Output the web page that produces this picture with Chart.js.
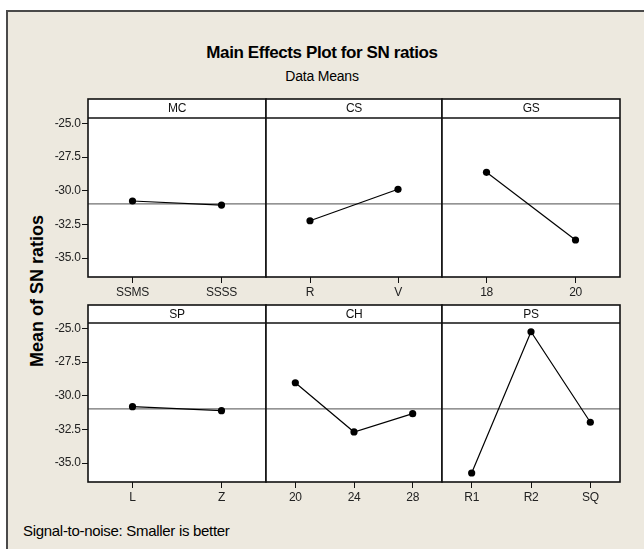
<!DOCTYPE html>
<html>
<head>
<meta charset="utf-8">
<script src="https://cdn.jsdelivr.net/npm/chart.js@4.4.1/dist/chart.umd.min.js"></script>
<style>
  html, body { margin: 0; padding: 0; background: #fff; }
  #page { position: relative; width: 644px; height: 549px; overflow: hidden; background: #fff; }
  #frame { position: absolute; left: 6px; top: 10px; width: 700px; height: 600px;
           border: 2px solid #4a4a4a; background: #EDE9DF; box-sizing: border-box; }
  canvas { position: absolute; left: 0; top: 0; }
  .txt { position: absolute; white-space: nowrap; color: #000;
         font-family: "Liberation Sans", Arial, sans-serif; }
  #title { left: 0; width: 644px; text-align: center; top: 42.5px; line-height: 20px;
           font-size: 17px; font-weight: bold; letter-spacing: -0.4px; }
  #subtitle { left: 0; width: 644px; text-align: center; top: 68px; line-height: 16px;
              font-size: 14px; letter-spacing: -0.2px; }
  #ylabel { left: -113px; top: 281px; width: 300px; height: 20px; line-height: 20px;
            text-align: center; font-size: 18px; font-weight: bold;
            transform: rotate(-90deg); transform-origin: 150px 10px; }
  #footer { left: 23px; top: 521.5px; line-height: 18px; font-size: 15px; letter-spacing: -0.3px; }
</style>
</head>
<body>
<div id="page">
  <div id="frame"></div>
  <div class="txt" id="title">Main Effects Plot for SN ratios</div>
  <div class="txt" id="subtitle">Data Means</div>
  <div class="txt" id="ylabel">Mean of SN ratios</div>
  <div class="txt" id="footer">Signal-to-noise: Smaller is better</div>
</div>
<script>
// Mean S/N ratio (dB) for each level of each factor
const mcLevels = ['SSMS', 'SSSS'];
const mcSN = [-30.76, -31.06];
const csLevels = ['R', 'V'];
const csSN = [-32.23, -29.89];
const gsLevels = ['18', '20'];
const gsSN = [-28.63, -33.66];
const spLevels = ['L', 'Z'];
const spSN = [-30.81, -31.11];
const chLevels = ['20', '24', '28'];
const chSN = [-29.03, -32.69, -31.33];
const psLevels = ['R1', 'R2', 'SQ'];
const psSN = [-35.74, -25.24, -31.97];

// Overall mean of all S/N ratios (horizontal reference line)
const grandMean = -30.97;

// Shared y axis
const yTicks = [-25.0, -27.5, -30.0, -32.5, -35.0];
const yMin = -36.41;
const yMax = -24.59;

// Panel grid layout (pixels)
const W = 644, H = 549;
const colEdges = [88, 266, 442, 620];
const rows = [
  { top: 118, bottom: 277, strip: 19 },
  { top: 323, bottom: 482, strip: 18 }
];
const X_AXIS_H = 30;
const Y_AXIS_W = 50;
const AXIS_FONT = '"Liberation Sans", Arial, sans-serif';

const panels = [
  { name: 'MC', levels: mcLevels, values: mcSN, col: 0, row: 0 },
  { name: 'CS', levels: csLevels, values: csSN, col: 1, row: 0 },
  { name: 'GS', levels: gsLevels, values: gsSN, col: 2, row: 0 },
  { name: 'SP', levels: spLevels, values: spSN, col: 0, row: 1 },
  { name: 'CH', levels: chLevels, values: chSN, col: 1, row: 1 },
  { name: 'PS', levels: psLevels, values: psSN, col: 2, row: 1 }
];

// White plot area, factor strip on top, boxed frame and grand-mean line
const panelFrame = {
  id: 'panelFrame',
  beforeDraw(chart, args, o) {
    const { ctx, chartArea: a } = chart;
    ctx.letterSpacing = '-0.3px';
    ctx.save();
    ctx.fillStyle = '#fff';
    ctx.fillRect(a.left, a.top - o.stripH, a.right - a.left, a.bottom - a.top + o.stripH);
    ctx.restore();
  },
  beforeDatasetsDraw(chart, args, o) {
    const { ctx, chartArea: a } = chart;
    const py = chart.scales.y.getPixelForValue(o.ref);
    ctx.save();
    ctx.strokeStyle = '#707070';
    ctx.lineWidth = 1.3;
    ctx.beginPath();
    ctx.moveTo(a.left, py);
    ctx.lineTo(a.right, py);
    ctx.stroke();
    ctx.restore();
  },
  afterDraw(chart, args, o) {
    const { ctx, chartArea: a } = chart;
    ctx.save();
    ctx.strokeStyle = '#111';
    ctx.lineWidth = 1.6;
    ctx.strokeRect(a.left, a.top - o.stripH, a.right - a.left, a.bottom - a.top + o.stripH);
    ctx.beginPath();
    ctx.moveTo(a.left, a.top);
    ctx.lineTo(a.right, a.top);
    ctx.stroke();
    ctx.fillStyle = '#111';
    ctx.font = '12px ' + AXIS_FONT;
    ctx.textAlign = 'center';
    ctx.textBaseline = 'middle';
    ctx.fillText(o.label, (a.left + a.right) / 2, a.top - o.stripH / 2 + 0.5);
    ctx.restore();
  }
};

const page = document.getElementById('page');

panels.forEach(p => {
  const canvas = document.createElement('canvas');
  canvas.width = W;
  canvas.height = H;
  page.appendChild(canvas);
  const left = colEdges[p.col];
  const right = colEdges[p.col + 1];
  const row = rows[p.row];
  const showY = p.col === 0;

  new Chart(canvas, {
    type: 'line',
    data: {
      labels: p.levels,
      datasets: [{
        data: p.values,
        borderColor: '#000',
        borderWidth: 1.2,
        pointRadius: 3.6,
        pointBackgroundColor: '#000',
        pointBorderColor: '#000',
        pointBorderWidth: 0,
        tension: 0,
        clip: false
      }]
    },
    options: {
      responsive: false,
      animation: false,
      events: [],
      layout: {
        padding: {
          left: showY ? left - Y_AXIS_W : left,
          right: W - right,
          top: row.top,
          bottom: H - row.bottom - X_AXIS_H
        }
      },
      plugins: {
        legend: { display: false },
        tooltip: { enabled: false },
        title: { display: false },
        panelFrame: { label: p.name, stripH: row.strip, ref: grandMean }
      },
      scales: {
        x: {
          type: 'category',
          offset: true,
          border: { display: false },
          grid: { display: true, drawOnChartArea: false, drawTicks: true,
                  tickLength: 6, color: '#111', lineWidth: 1, offset: false },
          ticks: { color: '#222', font: { size: 12, family: AXIS_FONT }, padding: 2.5,
                   maxRotation: 0, autoSkip: false },
          afterFit(s) { s.height = X_AXIS_H; }
        },
        y: {
          type: 'linear',
          display: showY,
          min: yMin,
          max: yMax,
          border: { display: false },
          grid: { drawOnChartArea: false, drawTicks: true, tickLength: 6,
                  color: '#111', lineWidth: 1 },
          ticks: { color: '#222', font: { size: 12, family: AXIS_FONT }, padding: 1.5,
                   callback: v => Number(v).toFixed(1) },
          afterBuildTicks(s) { s.ticks = yTicks.map(v => ({ value: v })); },
          afterFit(s) { if (showY) s.width = Y_AXIS_W; }
        }
      }
    },
    plugins: [panelFrame]
  });
});
</script>
</body>
</html>
